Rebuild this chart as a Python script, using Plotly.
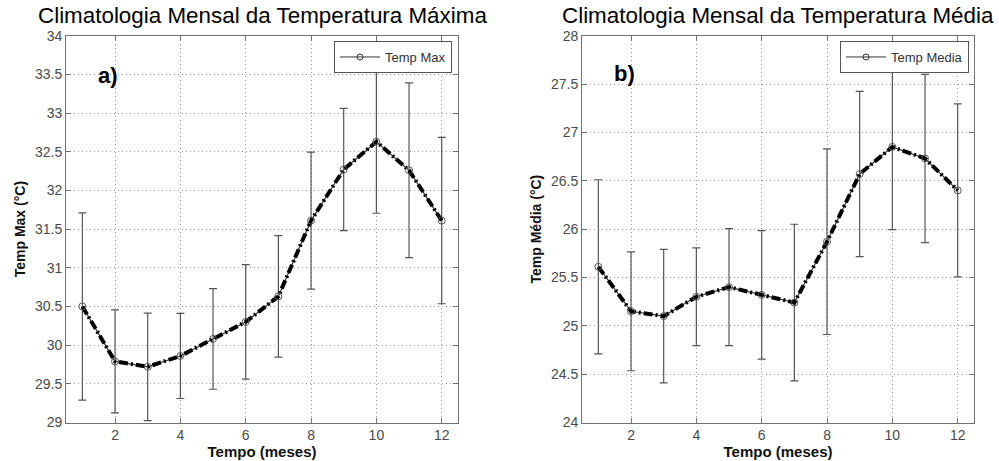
import plotly.graph_objects as go

months = list(range(1, 13))
temp_max = [30.50, 29.79, 29.72, 29.86, 30.08, 30.30, 30.63, 31.61, 32.27, 32.63, 32.26, 31.61]
temp_max_err = [1.21, 0.665, 0.695, 0.55, 0.65, 0.74, 0.785, 0.885, 0.79, 0.925, 1.13, 1.075]
temp_med = [25.61, 25.15, 25.10, 25.30, 25.40, 25.32, 25.24, 25.87, 26.57, 26.85, 26.73, 26.40]
temp_med_err = [0.90, 0.615, 0.69, 0.505, 0.605, 0.665, 0.81, 0.96, 0.855, 0.855, 0.87, 0.895]

month_ticks = [2, 4, 6, 8, 10, 12]

FONT = "Liberation Sans, Arial, sans-serif"
AXC = "#707070"
GRIDC = "#9a9a9a"
TICKC = "#4a4a4a"

fig = go.Figure()


def add_panel(y, err, name, xa, ya, legend):
    # thin continuous line underneath
    fig.add_trace(go.Scatter(
        x=months, y=y, xaxis=xa, yaxis=ya, mode="lines",
        line=dict(color="#333333", width=1.2),
        showlegend=False, hoverinfo="skip",
    ))
    # thick dash-dot line with error bars and markers
    fig.add_trace(go.Scatter(
        x=months, y=y, xaxis=xa, yaxis=ya, mode="lines+markers",
        line=dict(color="black", width=4, dash="9px,3px,2px,3px"),
        marker=dict(symbol="circle-open", size=7, color="#555555", line=dict(width=1)),
        error_y=dict(type="data", array=err, visible=True, color="#555555",
                     thickness=1.2, width=4),
        showlegend=False,
    ))
    fig.add_trace(go.Scatter(
        x=[None], y=[None], xaxis=xa, yaxis=ya, mode="lines+markers", name=name,
        line=dict(color="#333333", width=1),
        marker=dict(symbol="circle-open", size=6, color="#333333"),
        showlegend=True, legend=legend,
    ))


add_panel(temp_max, temp_max_err, "Temp Max", "x", "y", "legend")
add_panel(temp_med, temp_med_err, "Temp Media", "x2", "y2", "legend2")

dom_y = [0.0835, 0.9226]
common_x = dict(range=[0.5, 12.5], tickvals=month_ticks, ticks="inside", ticklen=5,
                tickcolor=AXC, showline=True, linecolor=AXC, linewidth=1, mirror="ticks",
                showgrid=True, gridcolor=GRIDC, griddash="1px,3px", gridwidth=1, zeroline=False,
                automargin=False,
                tickfont=dict(family=FONT, size=14, color=TICKC),
                title=dict(text="<b>Tempo (meses)</b>", font=dict(family=FONT, size=15, color="#111"),
                           standoff=0))
common_y = dict(dtick=0.5, ticks="inside", ticklen=5, tickcolor=AXC, showline=True,
                linecolor=AXC, linewidth=1, mirror="ticks", showgrid=True, gridcolor=GRIDC,
                griddash="1px,3px", gridwidth=1, zeroline=False, automargin=False,
                tickfont=dict(family=FONT, size=14, color=TICKC))

fig.update_layout(
    width=999, height=461,
    margin=dict(l=0, r=0, t=0, b=0, autoexpand=False),
    paper_bgcolor="white", plot_bgcolor="white",
    font=dict(family=FONT, color="black"),
    xaxis=dict(domain=[0.0661, 0.4585], anchor="y", **common_x),
    yaxis=dict(domain=dom_y, anchor="x", range=[29, 34], tick0=29,
               title=dict(text="<b>Temp Max (°C)</b>", font=dict(family=FONT, size=14, color="#111"),
                          standoff=6),
               **common_y),
    xaxis2=dict(domain=[0.5826, 0.975], anchor="y2", **common_x),
    yaxis2=dict(domain=dom_y, anchor="x2", range=[24, 28], tick0=24,
                title=dict(text="<b>Temp Média (°C)</b>", font=dict(family=FONT, size=14, color="#111"),
                           standoff=6),
                **common_y),
    legend=dict(x=0.4525, y=0.911, xanchor="right", yanchor="top", bgcolor="white",
                bordercolor="#555555", borderwidth=1, font=dict(family=FONT, size=13, color="#333"),
                itemwidth=40, tracegroupgap=0),
    legend2=dict(x=0.970, y=0.911, xanchor="right", yanchor="top", bgcolor="white",
                 bordercolor="#555555", borderwidth=1, font=dict(family=FONT, size=13, color="#333"),
                 itemwidth=40, tracegroupgap=0),
    annotations=[
        dict(text="Climatologia Mensal da Temperatura Máxima", x=0.2623, y=1 - 15.5 / 461,
             xref="paper", yref="paper", xanchor="center", yanchor="middle", showarrow=False,
             font=dict(family=FONT, size=22.4, color="black")),
        dict(text="Climatologia Mensal da Temperatura Média", x=0.7788, y=1 - 15.5 / 461,
             xref="paper", yref="paper", xanchor="center", yanchor="middle", showarrow=False,
             font=dict(family=FONT, size=22.4, color="black")),
        dict(text="<b>a)</b>", x=1.78, y=33.49, xref="x", yref="y", showarrow=False,
             font=dict(family=FONT, size=22, color="black")),
        dict(text="<b>b)</b>", x=1.8, y=27.61, xref="x2", yref="y2", showarrow=False,
             font=dict(family=FONT, size=22, color="black")),
    ],
)

fig.write_html("out.html", config={"displayModeBar": False},
               post_script="document.body.style.margin='0px';")
